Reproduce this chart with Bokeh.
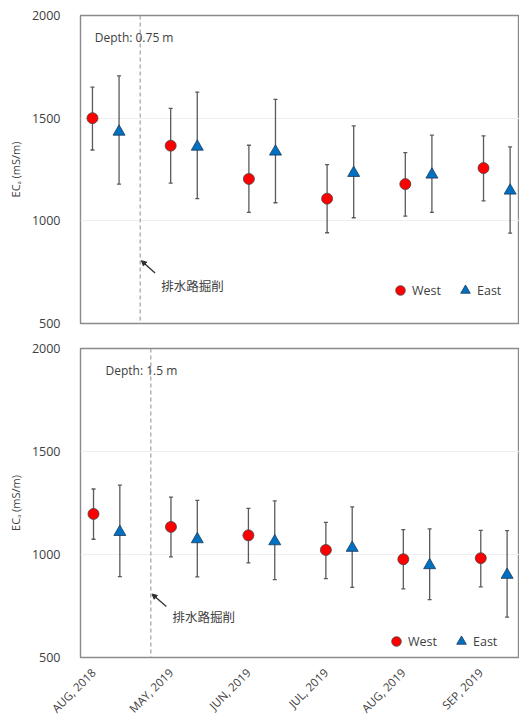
import math
from bokeh.plotting import figure
from bokeh.models import (ColumnDataSource, Whisker, TeeHead, Span, Label, Arrow,
                          NormalHead, FixedTicker, Range1d, Legend, LegendItem)
from bokeh.layouts import column
from bokeh.embed import file_html
from bokeh.resources import INLINE

# ---------------- data ----------------
months = ["AUG, 2018", "MAY, 2019", "JUN, 2019", "JUL, 2019", "AUG, 2019", "SEP, 2019"]
yticks = [500, 1000, 1500, 2000]

west_075 = [1500, 1366, 1204, 1108, 1179, 1257]
west_075_hi = [1651, 1548, 1368, 1274, 1332, 1414]
west_075_lo = [1345, 1184, 1041, 942, 1023, 1097]
east_075 = [1434, 1361, 1337, 1233, 1225, 1147]
east_075_hi = [1706, 1627, 1592, 1462, 1417, 1360]
east_075_lo = [1179, 1108, 1088, 1015, 1041, 940]

west_150 = [1197, 1134, 1093, 1022, 977, 982]
west_150_hi = [1318, 1279, 1224, 1156, 1121, 1117]
west_150_lo = [1074, 988, 959, 883, 833, 843]
east_150 = [1109, 1074, 1064, 1032, 948, 901]
east_150_hi = [1337, 1263, 1260, 1231, 1124, 1116]
east_150_lo = [893, 891, 878, 840, 781, 696]

EAST_OFFSET = 0.34
FONT = "Open Sans"
TXT = "#404040"


def panel(west, wlo, whi, east, elo, ehi, depth_text, xr, cut_x, arrow_from,
          arrow_to, note_xy, depth_xy, legend_loc, show_x, height, bt, bb):
    p = figure(width=519, height=height, output_backend="svg", toolbar_location=None,
               x_range=Range1d(*xr), y_range=Range1d(500, 2000),
               min_border_left=80, min_border_right=0,
               min_border_top=bt, min_border_bottom=bb)
    p.outline_line_color = "#8a8a8a"
    p.outline_line_width = 1.4
    p.background_fill_color = "white"
    p.border_fill_color = "white"

    p.xgrid.grid_line_color = None
    p.ygrid.grid_line_color = "#efefef"
    p.ygrid.grid_line_width = 1

    p.yaxis.ticker = FixedTicker(ticks=yticks)
    p.yaxis.axis_line_color = None
    p.yaxis.major_tick_line_color = None
    p.yaxis.minor_tick_line_color = None
    p.yaxis.major_label_standoff = 14
    p.yaxis.major_label_text_font = FONT
    p.yaxis.major_label_text_font_size = "12.5px"
    p.yaxis.major_label_text_color = TXT
    p.yaxis.axis_label = "EC\u2090 (mS/m)"
    p.yaxis.axis_label_text_font = FONT
    p.yaxis.axis_label_text_font_size = "11px"
    p.yaxis.axis_label_text_font_style = "normal"
    p.yaxis.axis_label_text_color = TXT
    p.yaxis.axis_label_standoff = 6

    if show_x:
        p.xaxis.ticker = FixedTicker(ticks=list(range(len(months))))
        p.xaxis.major_label_overrides = {i: m for i, m in enumerate(months)}
        p.xaxis.major_label_orientation = math.pi / 4
        p.xaxis.axis_line_color = None
        p.xaxis.major_tick_line_color = None
        p.xaxis.minor_tick_line_color = None
        p.xaxis.major_label_standoff = 7
        p.xaxis.major_label_text_font = FONT
        p.xaxis.major_label_text_font_size = "11.5px"
        p.xaxis.major_label_text_color = TXT
    else:
        p.xaxis.visible = False

    xs_w = list(range(len(months)))
    xs_e = [i + EAST_OFFSET for i in xs_w]
    sw = ColumnDataSource(dict(x=xs_w, y=west, lo=wlo, hi=whi))
    se = ColumnDataSource(dict(x=xs_e, y=east, lo=elo, hi=ehi))

    for src in (sw, se):
        wk = Whisker(source=src, base="x", upper="hi", lower="lo", dimension="height",
                     line_color="#5a5a5a", line_width=1.3, level="underlay",
                     upper_head=TeeHead(size=4, line_color="#5a5a5a", line_width=1.3),
                     lower_head=TeeHead(size=4, line_color="#5a5a5a", line_width=1.3))
        p.add_layout(wk)

    # cut-off line
    p.add_layout(Span(location=cut_x, dimension="height", line_color="#a0a0a0",
                      line_width=1.2, line_dash="4 3"))

    rw = p.scatter("x", "y", source=sw, marker="circle", size=11,
                   fill_color="#ff0000", line_color="#444444", line_width=0.8)
    re = p.scatter("x", "y", source=se, marker="triangle", size=12,
                   fill_color="#0070c0", line_color="#1f3a5c", line_width=0.8)

    legend = Legend(items=[LegendItem(label="West", renderers=[rw]),
                           LegendItem(label="East", renderers=[re])],
                    orientation="horizontal", location=legend_loc,
                    glyph_width=24, glyph_height=24, label_standoff=0,
                    spacing=12, padding=0, margin=0,
                    border_line_color=None, background_fill_alpha=0,
                    label_text_font=FONT, label_text_font_size="12.5px",
                    label_text_color=TXT)
    p.add_layout(legend)

    p.add_layout(Label(x=depth_xy[0], y=depth_xy[1], text=depth_text,
                       text_font=FONT, text_font_size="12px", text_color=TXT,
                       text_baseline="middle", text_align="left"))
    p.add_layout(Label(x=note_xy[0], y=note_xy[1], text="排水路掘削",
                       text_font="Noto Sans CJK JP", text_font_size="12.5px",
                       text_color=TXT, text_baseline="middle", text_align="left"))
    p.add_layout(Arrow(x_start=arrow_from[0], y_start=arrow_from[1],
                       x_end=arrow_to[0], y_end=arrow_to[1],
                       line_color="#303030", line_width=1.3,
                       end=NormalHead(size=5, fill_color="#303030",
                                      line_color="#303030")))
    return p


p1 = panel(west_075, west_075_lo, west_075_hi, east_075, east_075_lo, east_075_hi,
           "Depth: 0.75 m", (-0.153, 5.46), 0.61, (0.80, 746), (0.625, 806),
           (0.88, 687), (0.03, 1893), (308, 21), False, 335, 15, 12)
p2 = panel(west_150, west_150_lo, west_150_hi, east_150, east_150_lo, east_150_hi,
           "Depth: 1.5 m", (-0.168, 5.50), 0.74, (0.94, 748), (0.755, 808),
           (1.02, 699), (0.155, 1891), (304, 4), True, 388, 13, 66)

layout = column(p1, p2, spacing=0)
open("out.html", "w").write(file_html(layout, INLINE))
